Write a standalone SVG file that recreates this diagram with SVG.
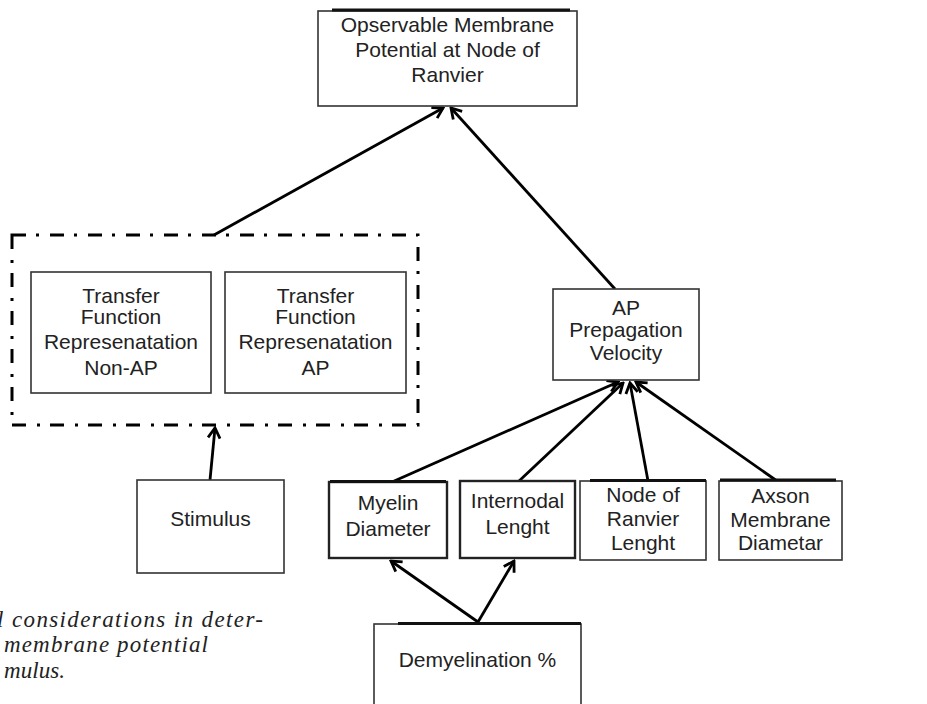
<svg xmlns="http://www.w3.org/2000/svg" width="927" height="704" viewBox="0 0 927 704">
  <style>
    .box { fill: #ffffff; stroke: #333333; stroke-width: 1.6; }
    .heavy { fill: #ffffff; stroke: #222222; stroke-width: 2.4; }
    .rim { stroke: #111111; stroke-width: 3; fill: none; }
    .lbl { font-family: "Liberation Sans", Arial, sans-serif; font-size: 21px; fill: #222222; text-anchor: middle; }
    .wire { stroke: #000000; stroke-width: 2.8; fill: none; marker-end: url(#head); }
    .frame { fill: none; stroke: #000000; stroke-width: 3; stroke-dasharray: 14 10 3 11; }
    .caption { font-family: "Liberation Serif", "Times New Roman", serif; font-style: italic; font-size: 23px; fill: #222222; }
  </style>
  <defs>
    <marker id="head" viewBox="-13 -8 15 16" markerWidth="15" markerHeight="16" refX="0" refY="0" orient="auto" markerUnits="userSpaceOnUse">
      <path d="M-10,-6 L0,0 L-10,6" fill="none" stroke="#000000" stroke-width="2.8" stroke-linejoin="miter"/>
    </marker>
  </defs>

  <rect width="927" height="704" fill="#ffffff"/>

  <!-- connectors -->
  <g id="connectors">
    <line class="wire" x1="214" y1="235" x2="443" y2="108"/>
    <line class="wire" x1="615" y1="289" x2="451" y2="108"/>
    <line class="wire" x1="210" y1="480" x2="215" y2="428"/>
    <line class="wire" x1="392" y1="482" x2="618" y2="382"/>
    <line class="wire" x1="518" y1="482" x2="623" y2="383"/>
    <line class="wire" x1="648" y1="481" x2="630" y2="383"/>
    <line class="wire" x1="777" y1="481" x2="636" y2="382"/>
    <line class="wire" x1="478" y1="622" x2="391" y2="561"/>
    <line class="wire" x1="478" y1="622" x2="514" y2="561"/>
  </g>

  <!-- top: observed membrane potential -->
  <g id="n-membrane">
    <rect class="box" x="318" y="11" width="259" height="95"/>
    <line class="rim" x1="332" y1="10" x2="570" y2="10"/>
    <text class="lbl" x="447.5" y="31.5">Opservable Membrane</text>
    <text class="lbl" x="447.5" y="56.5">Potential at Node of</text>
    <text class="lbl" x="447.5" y="81.5">Ranvier</text>
  </g>

  <!-- dash-dot container for the two transfer functions -->
  <g id="n-transfer">
    <path class="frame" d="M12,235 H418 V425 H12 Z"/>
  </g>

  <g id="n-tf-nonap">
    <rect class="box" x="31" y="272" width="180" height="121"/>
    <text class="lbl" x="121" y="303">Transfer</text>
    <text class="lbl" x="121" y="324">Function</text>
    <text class="lbl" x="121" y="349">Represenatation</text>
    <text class="lbl" x="121" y="375">Non-AP</text>
  </g>

  <g id="n-tf-ap">
    <rect class="box" x="225" y="272" width="181" height="121"/>
    <text class="lbl" x="315.5" y="303">Transfer</text>
    <text class="lbl" x="315.5" y="324">Function</text>
    <text class="lbl" x="315.5" y="349">Represenatation</text>
    <text class="lbl" x="315.5" y="375">AP</text>
  </g>

  <g id="n-velocity">
    <rect class="box" x="553" y="289" width="146" height="91"/>
    <text class="lbl" x="626" y="315">AP</text>
    <text class="lbl" x="626" y="337">Prepagation</text>
    <text class="lbl" x="626" y="360">Velocity</text>
  </g>

  <g id="n-stimulus">
    <rect class="box" x="137" y="480" width="147" height="93"/>
    <text class="lbl" x="210.5" y="526">Stimulus</text>
  </g>

  <g id="n-myelin">
    <rect class="heavy" x="329" y="482" width="118" height="76"/>
    <line class="rim" x1="330" y1="481.5" x2="446" y2="481.5"/>
    <text class="lbl" x="388" y="510">Myelin</text>
    <text class="lbl" x="388" y="536">Diameter</text>
  </g>

  <g id="n-internodal">
    <rect class="heavy" x="460" y="481" width="115" height="77"/>
    <text class="lbl" x="517.5" y="508">Internodal</text>
    <text class="lbl" x="517.5" y="534">Lenght</text>
  </g>

  <g id="n-node-length">
    <rect class="box" x="580" y="481" width="126" height="79"/>
    <line class="rim" x1="590" y1="480.5" x2="706" y2="480.5"/>
    <text class="lbl" x="643" y="502">Node of</text>
    <text class="lbl" x="643" y="526">Ranvier</text>
    <text class="lbl" x="643" y="550">Lenght</text>
  </g>

  <g id="n-axon">
    <rect class="box" x="719" y="481" width="123" height="79"/>
    <line class="rim" x1="720" y1="480" x2="836" y2="480"/>
    <text class="lbl" x="780.5" y="502.5">Axson</text>
    <text class="lbl" x="780.5" y="526.5">Membrane</text>
    <text class="lbl" x="780.5" y="550">Diametar</text>
  </g>

  <g id="n-demyelination">
    <rect class="box" x="374" y="624" width="207" height="100"/>
    <line class="rim" x1="398" y1="623.5" x2="581" y2="623.5"/>
    <text class="lbl" x="477.5" y="667">Demyelination %</text>
  </g>

  <!-- figure caption, clipped at the left edge -->
  <g id="caption">
    <text class="caption" x="-3" y="627" textLength="266" lengthAdjust="spacing">l considerations in deter-</text>
    <text class="caption" x="4" y="652" textLength="204" lengthAdjust="spacing">membrane potential</text>
    <text class="caption" x="4" y="678" textLength="61" lengthAdjust="spacing">mulus.</text>
  </g>
</svg>
